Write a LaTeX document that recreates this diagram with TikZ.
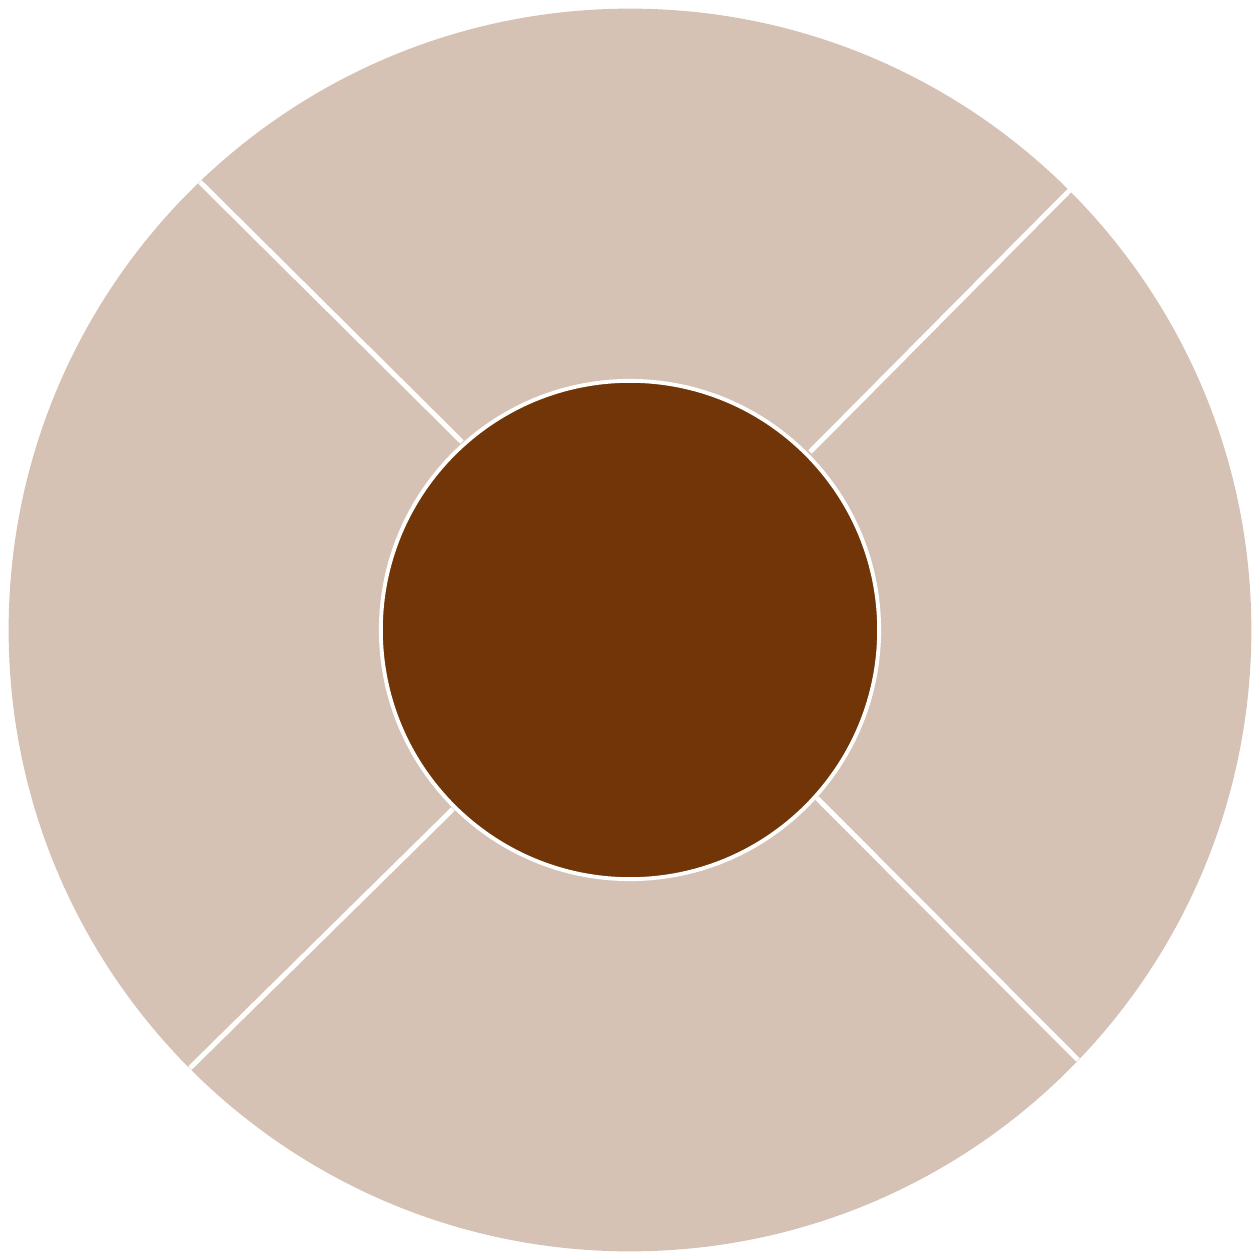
\documentclass[tikz,border=0pt]{standalone}
\usepackage{xcolor}
\usepackage{tikz}
\usetikzlibrary{positioning}

\definecolor{ringbeige}{HTML}{D6C2B5}
\definecolor{corebrown}{HTML}{723507}

\begin{document}
\begin{tikzpicture}[
  x=0.01cm, y=0.01cm,
  ring/.style={circle, fill=ringbeige, minimum size=12.42cm, inner sep=0pt},
  core/.style={circle, fill=corebrown, draw=white, line width=1.1pt,
               minimum size=4.98cm, inner sep=0pt},
  gap/.style={draw=white, line width=1.4pt}
]
\useasboundingbox (-630,-630) rectangle (630,630);

% Outer ring
\node[ring] (outer) at (0,0) {};

% Gap end points on the rim and on the core
\coordinate (tlo) at (-430,448);
\coordinate (tli) at (-168,188);
\coordinate (tro) at (440,440);
\coordinate (tri) at (180,178);
\coordinate (bro) at (448,-430);
\coordinate (bri) at (187,-168);
\coordinate (blo) at (-440,-438);
\coordinate (bli) at (-177,-179);

% Gaps between the four segments
\draw[gap] (tlo) -- (tli);
\draw[gap] (tro) -- (tri);
\draw[gap] (bro) -- (bri);
\draw[gap] (blo) -- (bli);

% Core
\node[core] (inner) at (0,0) {};

\end{tikzpicture}
\end{document}
